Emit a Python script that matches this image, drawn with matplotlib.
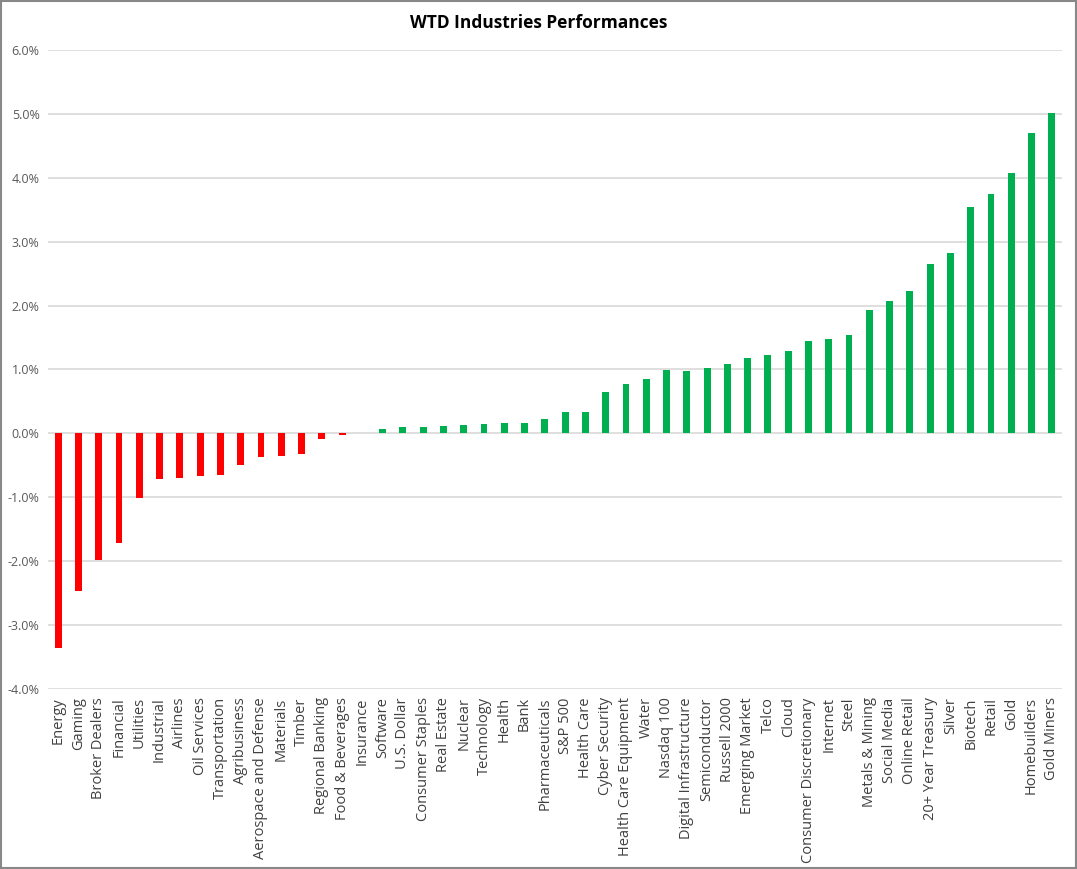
import matplotlib.pyplot as plt
import matplotlib.ticker as mtick
from matplotlib.patches import Rectangle

plt.rcParams['font.family'] = ['Open Sans', 'DejaVu Sans']

industries = ['Energy', 'Gaming', 'Broker Dealers', 'Financial', 'Utilities', 'Industrial',
              'Airlines', 'Oil Services', 'Transportation', 'Agribusiness',
              'Aerospace and Defense', 'Materials', 'Timber', 'Regional Banking',
              'Food & Beverages', 'Insurance', 'Software', 'U.S. Dollar', 'Consumer Staples',
              'Real Estate', 'Nuclear', 'Technology', 'Health', 'Bank', 'Pharmaceuticals',
              'S&P 500', 'Health Care', 'Cyber Security', 'Health Care Equipment', 'Water',
              'Nasdaq 100', 'Digital Infrastructure', 'Semiconductor', 'Russell 2000',
              'Emerging Market', 'Telco', 'Cloud', 'Consumer Discretionary', 'Internet',
              'Steel', 'Metals & Mining', 'Social Media', 'Online Retail', '20+ Year Treasury',
              'Silver', 'Biotech', 'Retail', 'Gold', 'Homebuilders', 'Gold Miners']

# weekly performance in %
perf = [-3.36, -2.46, -1.98, -1.71, -1.01, -0.71, -0.69, -0.67, -0.65, -0.50,
        -0.37, -0.35, -0.32, -0.09, -0.03, 0.0, 0.07, 0.10, 0.10, 0.11,
        0.135, 0.145, 0.16, 0.16, 0.22, 0.33, 0.33, 0.65, 0.77, 0.85,
        0.99, 0.98, 1.03, 1.09, 1.18, 1.23, 1.29, 1.45, 1.48, 1.54,
        1.93, 2.07, 2.23, 2.65, 2.82, 3.54, 3.75, 4.08, 4.70, 5.02]

colors = ['#FF0000' if v < 0 else '#00B050' for v in perf]

fig = plt.figure(figsize=(10.77, 8.69), dpi=100)
ax = fig.add_axes([0.0446, 0.2071, 0.9414, 0.7354])

x = range(len(industries))
ax.bar(x, perf, width=0.34, color=colors, zorder=3)

ax.set_xlim(-0.5, len(industries) - 0.5)
ax.set_ylim(-4, 6)
ax.yaxis.set_major_locator(mtick.MultipleLocator(1))
ax.yaxis.set_major_formatter(mtick.FuncFormatter(lambda v, p: f'{v:.1f}%'))
ax.grid(axis='y', color='#d9d9d9', linewidth=1.2, zorder=0)

for s in ax.spines.values():
    s.set_visible(False)

ax.set_xticks(list(x))
ax.set_xticklabels(industries, rotation=90, fontsize=10.5, color='#404040')
ax.tick_params(axis='both', length=0)
ax.tick_params(axis='y', labelsize=9, labelcolor='#595959', pad=6)
ax.tick_params(axis='x', pad=6)

fig.text(0.5, 0.974, 'WTD Industries Performances', ha='center', va='center',
         fontsize=12.5, fontweight='bold', color='black')

fig.patches.append(Rectangle((0.001, 0.001), 0.998, 0.998, transform=fig.transFigure,
                             fill=False, edgecolor='#888888', linewidth=1.5))

fig.savefig('out.png', dpi=100)
